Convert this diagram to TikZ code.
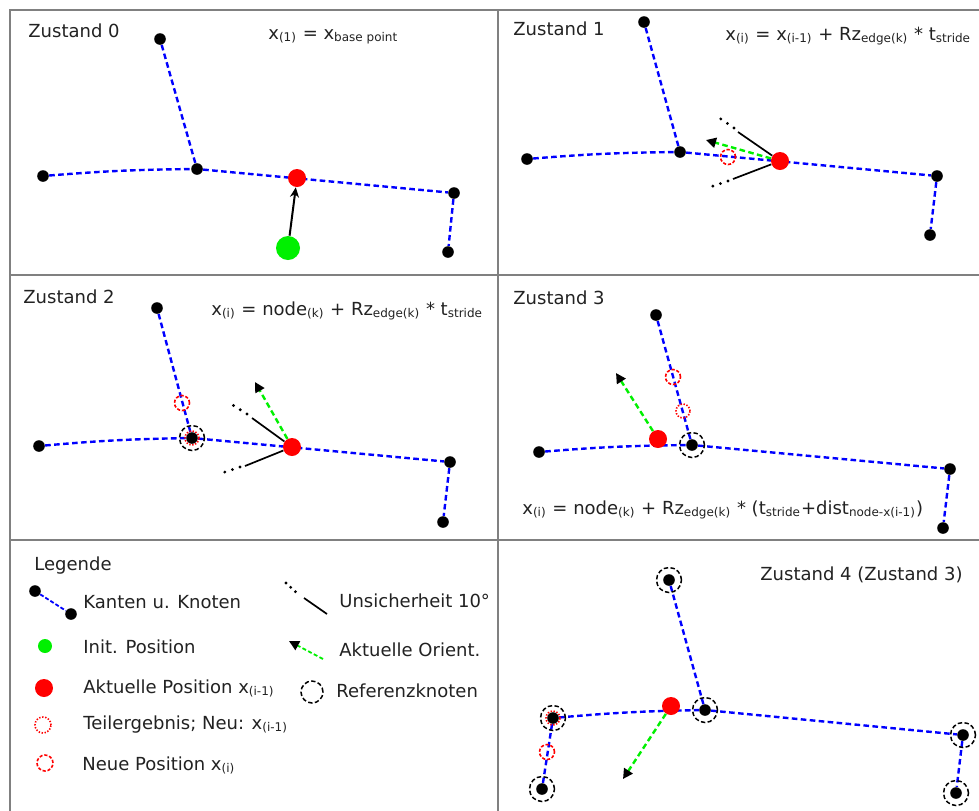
\documentclass[tikz,border=0pt]{standalone}
\usepackage{fontspec}
\setmainfont{DejaVu Sans}
\usepackage{xcolor}
\usetikzlibrary{arrows.meta}
\definecolor{zkInk}{HTML}{222222}
\definecolor{zkFrame}{HTML}{808080}
\definecolor{zkBlue}{HTML}{0000FF}
\definecolor{zkRed}{HTML}{FF0000}
\definecolor{zkGreen}{HTML}{00F000}
\tikzset{
  % Knoten (schwarz)
  knot/.style={circle,fill=black,inner sep=0pt,minimum size=5.8pt},
  % aktuelle Position (rot)
  aktpos/.style={circle,fill=zkRed,inner sep=0pt,minimum size=9pt},
  % Init. Position (gruen)
  initpos/.style={circle,fill=zkGreen,inner sep=0pt,minimum size=12pt},
  % Teilergebnis (rot, gepunktet)
  teil/.style={circle,draw=zkRed,inner sep=0pt,minimum size=7pt,
    line width=0.8pt,dash pattern=on 0.7pt off 0.8pt},
  % neue Position (rot, gestrichelt)
  neupos/.style={circle,draw=zkRed,inner sep=0pt,minimum size=7.5pt,
    line width=0.8pt,dash pattern=on 1.6pt off 0.9pt},
  % Referenzknoten (schwarz, gestrichelt)
  refk/.style={circle,draw=black,inner sep=0pt,minimum size=12.5pt,
    line width=0.75pt,dash pattern=on 2.2pt off 1.2pt},
  % Kanten
  kante/.style={draw=zkBlue,line width=1.2pt,dash pattern=on 2.8pt off 1.7pt},
  % Orientierung
  orient/.style={draw=zkGreen,line width=1.2pt,dash pattern=on 2.8pt off 1.7pt,
    -{Triangle[length=5pt,width=5pt,black]}},
  % Unsicherheit
  unsich/.style={draw=black,line width=0.85pt},
  unsichp/.style={draw=black,line width=1.6pt,line cap=round,
    dash pattern=on 0pt off 4pt},
  pfeil/.style={draw=black,line width=1pt,-{Stealth[length=5pt,width=4.5pt]}},
  rahmen/.style={draw=zkFrame,line width=0.75pt},
  txt/.style={anchor=base west,inner sep=0pt,text=zkInk},
}
\begin{document}
\begin{tikzpicture}[x=0.5pt,y=-0.5pt,font=\fontsize{9}{11}\selectfont]
  \path[use as bounding box] (0,0) rectangle (979,810);
  \clip (0,0) rectangle (979,810);
  \fill[white] (0,0) rectangle (979,810);

  % Rahmen
  \draw[rahmen] (10,820) -- (10,10) -- (990,10);
  \draw[rahmen] (498,10) -- (498,820);
  \draw[rahmen] (10,275) -- (990,275);
  \draw[rahmen] (10,540) -- (990,540);

  % Zustand 0
  \node[txt] (z0) at (28,37) {Zustand 0};
  \node[txt] (g0) at (268,39) {x\textsubscript{(1)} = x\textsubscript{base point}};
  \node[knot] (a0) at (160,39) {};
  \node[knot] (j0) at (197,169) {};
  \node[knot] (l0) at (43,176) {};
  \node[knot] (r0) at (454,193) {};
  \node[knot] (b0) at (448,252) {};
  \draw[kante] (l0) to[bend left=2] (j0);
  \draw[kante] (a0) -- (j0);
  \draw[kante] (j0) -- (r0);
  \draw[kante] (r0) -- (b0);
  \node[aktpos] (p0) at (297,178) {};
  \node[initpos] (i0) at (288,248) {};
  \draw[pfeil] (i0) -- (p0);

  % Zustand 1
  \node[txt] (z1) at (513,35) {Zustand 1};
  \node[txt] (g1) at (725,40)
    {x\textsubscript{(i)} = x\textsubscript{(i-1)} + Rz\textsubscript{edge(k)} * t\textsubscript{stride}};
  \node[knot] (a1) at (644,22) {};
  \node[knot] (j1) at (680,152) {};
  \node[knot] (l1) at (527,159) {};
  \node[knot] (r1) at (937,176) {};
  \node[knot] (b1) at (930,235) {};
  \draw[kante] (l1) to[bend left=2] (j1);
  \draw[kante] (a1) -- (j1);
  \draw[kante] (j1) -- (r1);
  \draw[kante] (r1) -- (b1);
  \node[neupos] (n1) at (728,157) {};
  \node[aktpos] (p1) at (780,161) {};
  \coordinate (u1a) at (738,132);
  \coordinate (u1b) at (734,128);
  \coordinate (u1c) at (718,117);
  \coordinate (v1a) at (733,179);
  \coordinate (v1b) at (728,181);
  \coordinate (v1c) at (710,187);
  \draw[unsich] (p1) -- (u1a);
  \draw[unsichp] (u1b) -- (u1c);
  \draw[unsich] (p1) -- (v1a);
  \draw[unsichp] (v1b) -- (v1c);
  \coordinate (o1) at (706,140);
  \draw[orient] (p1) -- (o1);

  % Zustand 2
  \node[txt] (z2) at (23,303) {Zustand 2};
  \node[txt] (g2) at (211,315)
    {x\textsubscript{(i)} = node\textsubscript{(k)} + Rz\textsubscript{edge(k)} * t\textsubscript{stride}};
  \node[knot] (a2) at (157,308) {};
  \node[knot] (j2) at (192,438) {};
  \node[knot] (l2) at (39,446) {};
  \node[knot] (r2) at (450,462) {};
  \node[knot] (b2) at (443,522) {};
  \draw[kante] (l2) to[bend left=2] (j2);
  \draw[kante] (a2) -- (j2);
  \draw[kante] (j2) -- (r2);
  \draw[kante] (r2) -- (b2);
  \node[teil] (t2) at (j2) {};
  \node[refk] (rf2) at (j2) {};
  \node[neupos] (n2) at (182,403) {};
  \node[aktpos] (p2) at (292,447) {};
  \coordinate (u2a) at (252,418);
  \coordinate (u2b) at (247,414);
  \coordinate (u2c) at (231,404);
  \coordinate (v2a) at (245,466);
  \coordinate (v2b) at (240,467);
  \coordinate (v2c) at (222,473);
  \draw[unsich] (p2) -- (u2a);
  \draw[unsichp] (u2b) -- (u2c);
  \draw[unsich] (p2) -- (v2a);
  \draw[unsichp] (v2b) -- (v2c);
  \coordinate (o2) at (255,382);
  \draw[orient] (p2) -- (o2);

  % Zustand 3
  \node[txt] (z3) at (513,304) {Zustand 3};
  \node[txt] (g3) at (522,514)
    {x\textsubscript{(i)} = node\textsubscript{(k)} + Rz\textsubscript{edge(k)} * (t\textsubscript{stride}+dist\textsubscript{node-x(i-1)})};
  \node[knot] (a3) at (656,315) {};
  \node[knot] (j3) at (692,445) {};
  \node[knot] (l3) at (539,452) {};
  \node[knot] (r3) at (950,469) {};
  \node[knot] (b3) at (943,528) {};
  \draw[kante] (l3) to[bend left=2] (j3);
  \draw[kante] (a3) -- (j3);
  \draw[kante] (j3) -- (r3);
  \draw[kante] (r3) -- (b3);
  \node[refk] (rf3) at (j3) {};
  \node[neupos] (n3) at (673,377) {};
  \node[teil] (t3) at (683,411) {};
  \node[aktpos] (p3) at (658,439) {};
  \coordinate (o3) at (616,373);
  \draw[orient] (p3) -- (o3);

  % Zustand 4
  \node[txt] (z4) at (760,580) {Zustand 4 (Zustand 3)};
  \node[knot] (a4) at (669,580) {};
  \node[knot] (j4) at (705,710) {};
  \node[knot] (l4) at (553,718) {};
  \node[knot] (r4) at (963,735) {};
  \node[knot] (b4) at (956,793) {};
  \node[knot] (c4) at (542,789) {};
  \draw[kante] (l4) to[bend left=2] (j4);
  \draw[kante] (a4) -- (j4);
  \draw[kante] (j4) -- (r4);
  \draw[kante] (r4) -- (b4);
  \draw[kante] (l4) -- (c4);
  \foreach \k in {a4,j4,l4,r4,b4,c4}
    \node[refk] (rf\k) at (\k) {};
  \node[teil] (t4) at (l4) {};
  \node[neupos] (n4) at (547,752) {};
  \node[aktpos] (p4) at (671,706) {};
  \coordinate (o4) at (623,779);
  \draw[orient] (p4) -- (o4);

  % Legende
  \node[txt] (leg) at (34,570) {Legende};
  \node[knot] (ka) at (35,591) {};
  \node[knot] (kb) at (71,614) {};
  \draw[kante,line width=0.9pt,dash pattern=on 2pt off 1pt] (ka) -- (kb);
  \node[txt] (lk) at (83,608) {Kanten u. Knoten};
  \node[initpos,minimum size=7pt] (li) at (45,646) {};
  \node[txt] (lit) at (83,653) {Init. Position};
  \node[aktpos] (lp) at (44,688) {};
  \node[txt] (lpt) at (83,693) {Aktuelle Position x\textsubscript{(i-1)}};
  \node[teil,minimum size=8pt] (lt) at (43,725) {};
  \node[txt] (ltt) at (83,729) {Teilergebnis; Neu: x\textsubscript{(i-1)}};
  \node[neupos,minimum size=8pt] (ln) at (45,763) {};
  \node[txt] (lnt) at (82,770) {Neue Position x\textsubscript{(i)}};
  \coordinate (lu1) at (286,583);
  \coordinate (lu2) at (298,594);
  \coordinate (lu3) at (304,598);
  \coordinate (lu4) at (327,614);
  \draw[unsichp,dash pattern=on 0pt off 3.2pt] (lu1) -- (lu2);
  \draw[unsich] (lu3) -- (lu4);
  \node[txt] (lut) at (339,607) {Unsicherheit 10°};
  \coordinate (lo1) at (323,659);
  \coordinate (lo2) at (289,641);
  \draw[orient,line width=0.9pt,dash pattern=on 2pt off 1.2pt] (lo1) -- (lo2);
  \node[txt] (lot) at (339,656) {Aktuelle Orient.};
  \node[refk,minimum size=11pt] (lr) at (312,692) {};
  \node[txt] (lrt) at (336,697) {Referenzknoten};
\end{tikzpicture}
\end{document}
